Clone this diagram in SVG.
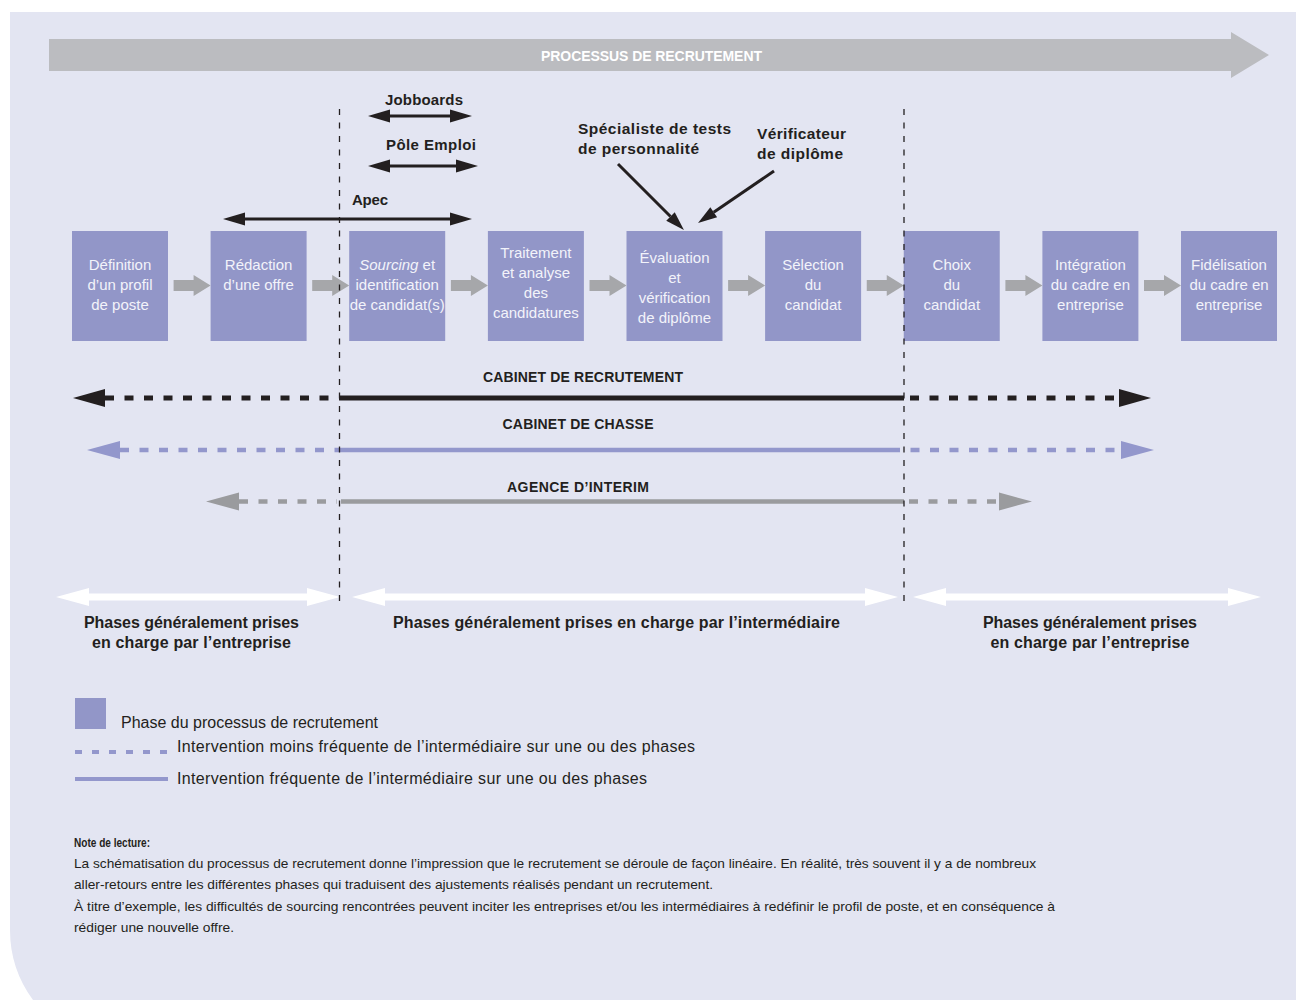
<svg xmlns="http://www.w3.org/2000/svg" width="1296" height="1000" viewBox="0 0 1296 1000">
<style>
.box{fill:#9296c8}
.bt{font-family:"Liberation Sans",Arial,sans-serif;font-size:15px;fill:#f2f3fa;text-anchor:middle}
.lb{font-family:"Liberation Sans",Arial,sans-serif;font-weight:bold;fill:#231f20}
.rg{font-family:"Liberation Sans",Arial,sans-serif;fill:#231f20}
.blk{stroke:#231f20;stroke-width:3;fill:none}
.div{stroke:#231f20;stroke-width:1.3;stroke-dasharray:6 7.5;fill:none}
.dash{stroke-dasharray:9 10.5}
</style>
<defs>
<marker id="ahB" markerUnits="userSpaceOnUse" markerWidth="22" markerHeight="13" refX="0" refY="6.5" orient="auto-start-reverse" overflow="visible"><path d="M0,0 L22,6.5 L0,13 Z" fill="#231f20"/></marker>
<marker id="ahS" markerUnits="userSpaceOnUse" markerWidth="19" markerHeight="12" refX="0" refY="6" orient="auto" overflow="visible"><path d="M0,0 L19,6 L0,12 Z" fill="#231f20"/></marker>
<marker id="bigK" markerUnits="userSpaceOnUse" markerWidth="32" markerHeight="18" refX="0" refY="9" orient="auto-start-reverse" overflow="visible"><path d="M0,0 L32,9 L0,18 Z" fill="#231f20"/></marker>
<marker id="bigL" markerUnits="userSpaceOnUse" markerWidth="33" markerHeight="18" refX="0" refY="9" orient="auto-start-reverse" overflow="visible"><path d="M0,0 L33,9 L0,18 Z" fill="#9397cc"/></marker>
<marker id="bigG" markerUnits="userSpaceOnUse" markerWidth="33" markerHeight="18" refX="0" refY="9" orient="auto-start-reverse" overflow="visible"><path d="M0,0 L33,9 L0,18 Z" fill="#9a9b9e"/></marker>
<marker id="bigW" markerUnits="userSpaceOnUse" markerWidth="33" markerHeight="18" refX="0" refY="9" orient="auto-start-reverse" overflow="visible"><path d="M0,0 L33,9 L0,18 Z" fill="#ffffff"/></marker>
<path id="pa" d="M0,-5.5 H20 V-10.5 L37,0 L20,10.5 V5.5 H0 Z" fill="#a6a7aa"/>
</defs>

<path d="M10,12 H1296 V1000 H33 A118,118 0 0 1 10,930 Z" fill="#e3e5f2"/>

<g id="process-banner">
<polygon points="49,39 1231,39 1231,32 1269,55 1231,78 1231,71 49,71" fill="#bbbcc0"/>
<text x="651.5" y="60.5" class="lb" style="fill:#ffffff;font-size:14px" text-anchor="middle" textLength="221">PROCESSUS DE RECRUTEMENT</text>
</g>

<g id="node-definition"><rect class="box" x="72" y="231" width="96" height="110"/>
<text class="bt" x="120" y="270">Définition</text><text class="bt" x="120" y="290">d’un profil</text><text class="bt" x="120" y="310">de poste</text></g>
<g id="node-redaction"><rect class="box" x="210.6" y="231" width="96" height="110"/>
<text class="bt" x="258.6" y="270">Rédaction</text><text class="bt" x="258.6" y="290">d’une offre</text></g>
<g id="node-sourcing"><rect class="box" x="349.2" y="231" width="96" height="110"/>
<text class="bt" x="397.2" y="270"><tspan font-style="italic">Sourcing</tspan> et</text><text class="bt" x="397.2" y="290">identification</text><text class="bt" x="397.2" y="310">de candidat(s)</text></g>
<g id="node-traitement"><rect class="box" x="487.9" y="231" width="96" height="110"/>
<text class="bt" x="535.9" y="258">Traitement</text><text class="bt" x="535.9" y="278">et analyse</text><text class="bt" x="535.9" y="298">des</text><text class="bt" x="535.9" y="318">candidatures</text></g>
<g id="node-evaluation"><rect class="box" x="626.5" y="231" width="96" height="110"/>
<text class="bt" x="674.5" y="263">Évaluation</text><text class="bt" x="674.5" y="283">et</text><text class="bt" x="674.5" y="303">vérification</text><text class="bt" x="674.5" y="323">de diplôme</text></g>
<g id="node-selection"><rect class="box" x="765.1" y="231" width="96" height="110"/>
<text class="bt" x="813.1" y="270">Sélection</text><text class="bt" x="813.1" y="290">du</text><text class="bt" x="813.1" y="310">candidat</text></g>
<g id="node-choix"><rect class="box" x="903.75" y="231" width="96" height="110"/>
<text class="bt" x="951.75" y="270">Choix</text><text class="bt" x="951.75" y="290">du</text><text class="bt" x="951.75" y="310">candidat</text></g>
<g id="node-integration"><rect class="box" x="1042.4" y="231" width="96" height="110"/>
<text class="bt" x="1090.4" y="270">Intégration</text><text class="bt" x="1090.4" y="290">du cadre en</text><text class="bt" x="1090.4" y="310">entreprise</text></g>
<g id="node-fidelisation"><rect class="box" x="1181" y="231" width="96" height="110"/>
<text class="bt" x="1229" y="270">Fidélisation</text><text class="bt" x="1229" y="290">du cadre en</text><text class="bt" x="1229" y="310">entreprise</text></g>

<g id="connectors">
<use href="#pa" x="173.6" y="285.5"/>
<use href="#pa" x="312.2" y="285.5"/>
<use href="#pa" x="450.9" y="285.5"/>
<use href="#pa" x="589.5" y="285.5"/>
<use href="#pa" x="728.1" y="285.5"/>
<use href="#pa" x="866.75" y="285.5"/>
<use href="#pa" x="1005.4" y="285.5"/>
<use href="#pa" x="1144" y="285.5"/>
<line class="blk" x1="390" y1="116" x2="450" y2="116" marker-start="url(#ahB)" marker-end="url(#ahB)"/>
<line class="blk" x1="390" y1="166" x2="456" y2="166" marker-start="url(#ahB)" marker-end="url(#ahB)"/>
<line class="blk" x1="245" y1="219" x2="450" y2="219" marker-start="url(#ahB)" marker-end="url(#ahB)"/>
<line class="blk" x1="618" y1="164" x2="670.5" y2="216.5" marker-end="url(#ahS)"/>
<line class="blk" x1="774" y1="171" x2="713.7" y2="212.3" marker-end="url(#ahS)"/>
<line class="dash" x1="105" y1="398" x2="339" y2="398" stroke="#231f20" stroke-width="5" marker-start="url(#bigK)"/>
<line x1="339" y1="398" x2="904" y2="398" stroke="#231f20" stroke-width="5"/>
<line class="dash" x1="910" y1="398" x2="1119" y2="398" stroke="#231f20" stroke-width="5" marker-end="url(#bigK)"/>
<line class="dash" x1="120" y1="450" x2="339" y2="450" stroke="#9397cc" stroke-width="4.5" marker-start="url(#bigL)"/>
<line x1="339" y1="450" x2="891" y2="450" stroke="#9397cc" stroke-width="4.5"/>
<line class="dash" x1="891" y1="450" x2="1121" y2="450" stroke="#9397cc" stroke-width="4.5" marker-end="url(#bigL)"/>
<line class="dash" x1="239" y1="501.5" x2="337" y2="501.5" stroke="#9a9b9e" stroke-width="4.5" marker-start="url(#bigG)"/>
<line x1="341" y1="501.5" x2="904" y2="501.5" stroke="#9a9b9e" stroke-width="4.5"/>
<line class="dash" x1="909" y1="501.5" x2="999" y2="501.5" stroke="#9a9b9e" stroke-width="4.5" marker-end="url(#bigG)"/>
<line x1="89" y1="597" x2="307" y2="597" stroke="#ffffff" stroke-width="7" marker-start="url(#bigW)" marker-end="url(#bigW)"/>
<line x1="385" y1="597" x2="865" y2="597" stroke="#ffffff" stroke-width="7" marker-start="url(#bigW)" marker-end="url(#bigW)"/>
<line x1="946" y1="597" x2="1228" y2="597" stroke="#ffffff" stroke-width="7" marker-start="url(#bigW)" marker-end="url(#bigW)"/>
</g>

<g id="dividers">
<line class="div" x1="339.5" y1="109" x2="339.5" y2="606"/>
<line class="div" x1="904" y1="109" x2="904" y2="606"/>
</g>

<g id="labels">
<text class="lb" x="424" y="105" font-size="15" text-anchor="middle" textLength="78">Jobboards</text>
<text class="lb" x="431" y="150" font-size="15" text-anchor="middle" textLength="90">Pôle Emploi</text>
<text class="lb" x="352" y="205" font-size="15" textLength="36">Apec</text>
<text class="lb" x="578" y="134" font-size="15.5" textLength="153">Spécialiste de tests</text>
<text class="lb" x="578" y="154" font-size="15.5" textLength="121">de personnalité</text>
<text class="lb" x="757" y="139" font-size="15.5" textLength="89">Vérificateur</text>
<text class="lb" x="757" y="159" font-size="15.5" textLength="86">de diplôme</text>
<text class="lb" x="583" y="382" font-size="14" text-anchor="middle" textLength="200">CABINET DE RECRUTEMENT</text>
<text class="lb" x="578" y="429" font-size="14" text-anchor="middle" textLength="151">CABINET DE CHASSE</text>
<text class="lb" x="578" y="492" font-size="14" text-anchor="middle" textLength="142">AGENCE D’INTERIM</text>
<text class="lb" x="191.5" y="628" font-size="16" text-anchor="middle" textLength="215">Phases généralement prises</text>
<text class="lb" x="191.5" y="648" font-size="16" text-anchor="middle" textLength="199">en charge par l’entreprise</text>
<text class="lb" x="616.5" y="628" font-size="16" text-anchor="middle" textLength="447">Phases généralement prises en charge par l’intermédiaire</text>
<text class="lb" x="1090" y="628" font-size="16" text-anchor="middle" textLength="214">Phases généralement prises</text>
<text class="lb" x="1090" y="648" font-size="16" text-anchor="middle" textLength="199">en charge par l’entreprise</text>
</g>

<g id="legend">
<rect class="box" x="75" y="698" width="31" height="31"/>
<text class="rg" x="121" y="728" font-size="16" textLength="257">Phase du processus de recrutement</text>
<line x1="75" y1="752" x2="168" y2="752" stroke="#9397cc" stroke-width="4" stroke-dasharray="7 10"/>
<text class="rg" x="177" y="751.5" font-size="16" textLength="518">Intervention moins fréquente de l’intermédiaire sur une ou des phases</text>
<line x1="75" y1="779" x2="168" y2="779" stroke="#9397cc" stroke-width="4"/>
<text class="rg" x="177" y="783.5" font-size="16" textLength="470">Intervention fréquente de l’intermédiaire sur une ou des phases</text>
</g>

<g id="note">
<text class="lb" x="74" y="847" font-size="12.5" textLength="76" lengthAdjust="spacingAndGlyphs">Note de lecture:</text>
<text class="rg" x="74" y="868" font-size="13" textLength="962" lengthAdjust="spacingAndGlyphs">La schématisation du processus de recrutement donne l’impression que le recrutement se déroule de façon linéaire. En réalité, très souvent il y a de nombreux</text>
<text class="rg" x="74" y="889" font-size="13" textLength="639" lengthAdjust="spacingAndGlyphs">aller-retours entre les différentes phases qui traduisent des ajustements réalisés pendant un recrutement.</text>
<text class="rg" x="74" y="911" font-size="13" textLength="981" lengthAdjust="spacingAndGlyphs">À titre d’exemple, les difficultés de sourcing rencontrées peuvent inciter les entreprises et/ou les intermédiaires à redéfinir le profil de poste, et en conséquence à</text>
<text class="rg" x="74" y="932" font-size="13" textLength="160" lengthAdjust="spacingAndGlyphs">rédiger une nouvelle offre.</text>
</g>
</svg>
